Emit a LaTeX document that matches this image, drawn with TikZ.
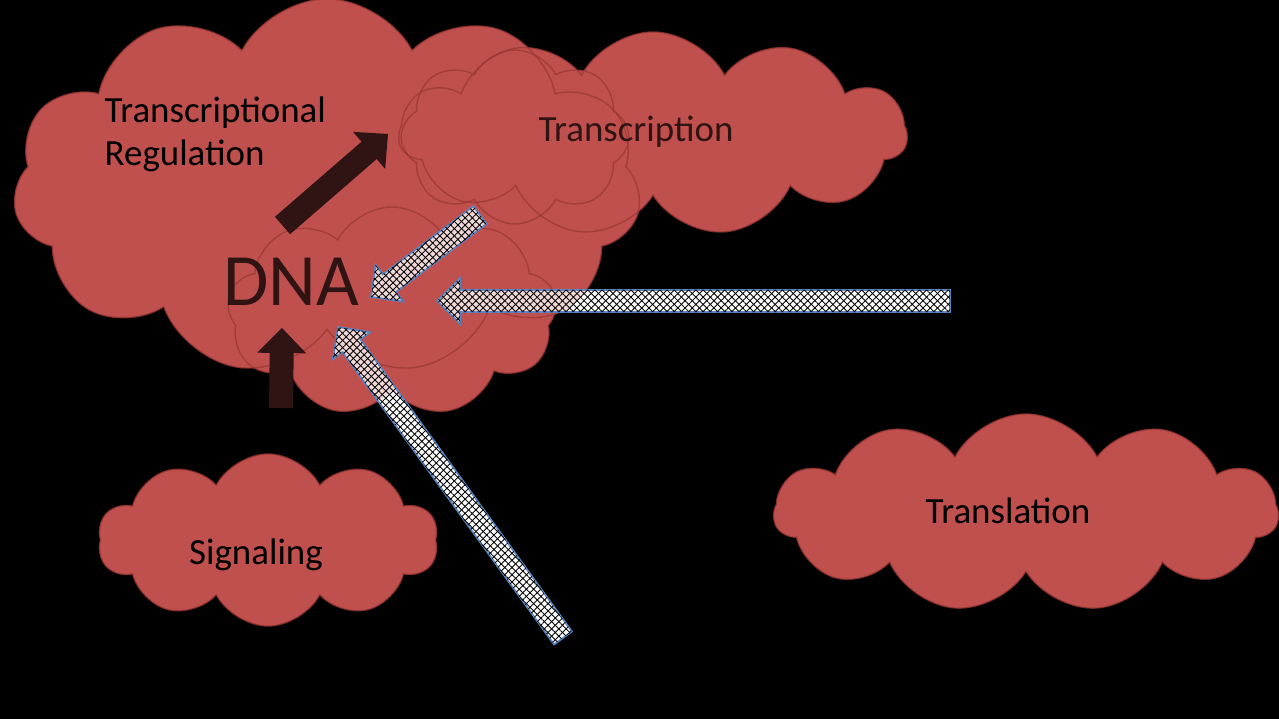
\documentclass[tikz,border=0pt]{standalone}
\usepackage{fontspec}
\setmainfont{Carlito}
\usepackage{tikz}
\usetikzlibrary{shapes.symbols,patterns.meta,calc}

\definecolor{cloudred}{HTML}{C0504D}
\definecolor{cloudedge}{HTML}{9A3835}
\definecolor{darkbrown}{HTML}{301414}
\definecolor{hatchblue}{HTML}{5A86C2}

\tikzset{
  puff/.style={cloud, cloud puff arc=125, cloud ignores aspect, inner sep=0pt},
  labeltext/.style={font=\fontsize{10.5}{12.24}\selectfont, inner sep=0pt},
  solidarrow/.style={fill=darkbrown},
  hatchbase/.style={fill=white},
  hatcharrow/.style={fill=white, fill opacity=0.78, draw=hatchblue, line width=0.5pt, line join=miter,
    postaction={fill opacity=1, pattern={Lines[angle=45,distance=1.45pt,line width=0.25pt]}},
    postaction={fill opacity=1, pattern={Lines[angle=-45,distance=1.45pt,line width=0.25pt]}}},
}

% block arrow: style, tail, tip, half shaft, half head, head length
\newcommand{\blockarrow}[6]{%
  \coordinate (hb) at ($(#3)!#6!(#2)$);
  \path[#1] ($(#2)!#4!90:(#3)$) -- ($(hb)!#4!90:(#3)$) -- ($(hb)!#5!90:(#3)$) -- (#3)
    -- ($(hb)!#5!-90:(#3)$) -- ($(hb)!#4!-90:(#3)$) -- ($(#2)!#4!-90:(#3)$) -- cycle;
}

\begin{document}
\begin{tikzpicture}[x=0.01cm, y=-0.01cm]
\path[fill=black, use as bounding box] (0,0) rectangle (1279,719);

% arrow ends
\coordinate (upA) at (282.5,225.5);
\coordinate (upB) at (388,134);
\coordinate (sigA) at (281,408);
\coordinate (sigB) at (282,328);
\coordinate (trA) at (480,215);
\coordinate (trB) at (371,297);
\coordinate (tlA) at (950,301);
\coordinate (tlB) at (437,301);
\coordinate (sgA) at (563,638);
\coordinate (sgB) at (338,327);

% white under the hatched arrows
\blockarrow{hatchbase}{trA}{trB}{0.11cm}{0.23cm}{0.23cm}
\blockarrow{hatchbase}{tlA}{tlB}{0.11cm}{0.23cm}{0.23cm}
\blockarrow{hatchbase}{sgA}{sgB}{0.11cm}{0.23cm}{0.23cm}

% clouds
\foreach \name/\cx/\cy/\cw/\ch/\np in {regcloud/327/187/628/376/11, dnacloud/392/312/330/210/9,
    trcloud/653/134/508/204/11, smallcloud/515/137/228/174/8, sigcloud/268/540/340/172/10, tlcloud/1026/513/504/198/11}
  \node[puff, cloud puffs=\np, fill=cloudred, minimum width=\cw*0.01cm, minimum height=\ch*0.01cm] (\name) at (\cx,\cy) {};
\foreach \name/\cx/\cy/\cw/\ch/\np in {regcloud/327/187/628/376/11, dnacloud/392/312/330/210/9,
    trcloud/653/134/508/204/11, smallcloud/515/137/228/174/8, sigcloud/268/540/340/172/10, tlcloud/1026/513/504/198/11}
  \node[puff, cloud puffs=\np, draw=cloudedge, draw opacity=0.75, line width=0.4pt, minimum width=\cw*0.01cm, minimum height=\ch*0.01cm] at (\cx,\cy) {};

% texts
\node[labeltext, align=left, anchor=west] (regtext) at (104,134.5) {Transcriptional\\Regulation};
\node[font=\fontsize{21}{25}\selectfont, text=darkbrown, inner sep=0pt] (dnatext) at (291,282) {DNA};
\node[labeltext, text=darkbrown, anchor=base] (trtext) at (636,142) {Transcription};
\node[labeltext, anchor=base] (sigtext) at (256,565) {Signaling};
\node[labeltext, anchor=base] (tltext) at (1008,524) {Translation};

% dark arrows
\blockarrow{solidarrow}{upA}{upB}{0.115cm}{0.245cm}{0.25cm}
\blockarrow{solidarrow}{sigA}{sigB}{0.12cm}{0.245cm}{0.25cm}

% hatched arrows
\blockarrow{hatcharrow}{trA}{trB}{0.11cm}{0.23cm}{0.23cm}
\blockarrow{hatcharrow}{tlA}{tlB}{0.11cm}{0.23cm}{0.23cm}
\blockarrow{hatcharrow}{sgA}{sgB}{0.11cm}{0.23cm}{0.23cm}
\end{tikzpicture}
\end{document}
